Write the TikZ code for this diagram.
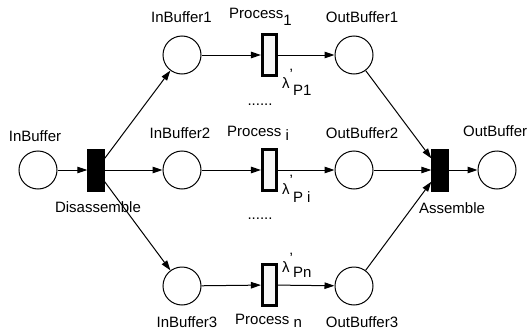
\documentclass[tikz,border=0pt]{standalone}
\usepackage{fontspec}
\setmainfont{Liberation Sans}
\usetikzlibrary{arrows.meta}
\begin{document}
\begin{tikzpicture}[x=1pt,y=-1pt,
  place/.style={draw, circle, line width=1pt, minimum size=38pt, inner sep=0pt},
  blacktr/.style={draw, fill=black, rectangle, minimum width=17pt, minimum height=42pt, inner sep=0pt},
  proctr/.style={draw, fill=gray!6, rectangle, line width=2.6pt, minimum width=14.5pt, minimum height=40.5pt, inner sep=0pt},
  lbl/.style={inner sep=0pt, font=\fontsize{15}{17}\selectfont},
  arc/.style={line width=1pt, -{Triangle[length=10pt,width=6.5pt]}}]
\useasboundingbox (0,0) rectangle (530,332);
% places
\node[place] (ib) at (38,170) {};
\node[place] (ib1) at (182,55) {};
\node[place] (ib2) at (182,170) {};
\node[place] (ib3) at (182,286) {};
\node[place] (ob1) at (354,55) {};
\node[place] (ob2) at (354,170) {};
\node[place] (ob3) at (354,286) {};
\node[place] (ob) at (497,170) {};
% transitions
\node[blacktr] (dis) at (96,170) {};
\node[blacktr] (asm) at (440,170) {};
\node[proctr] (p1) at (269.5,55) {};
\node[proctr] (pi) at (269.5,170) {};
\node[proctr] (pn) at (269.5,285) {};
% arcs
\draw[arc] (ib) -- (dis);
\draw[arc] (dis) -- (ib1);
\draw[arc] (dis) -- (ib2);
\draw[arc] (dis) -- (ib3);
\draw[arc] (ib1) -- (p1);
\draw[arc] (ib2) -- (pi);
\draw[arc] (ib3) -- (pn);
\draw[arc] (p1) -- (ob1);
\draw[arc] (pi) -- (ob2);
\draw[arc] (pn) -- (ob3);
\draw[arc] (ob1) -- (asm);
\draw[arc] (ob2) -- (asm);
\draw[arc] (ob3) -- (asm);
\draw[arc] (asm) -- (ob);
% labels
\node[lbl] (tib) at (35,136) {InBuffer};
\node[lbl] (tdis) at (98,207) {Disassemble};
\node[lbl] (tasm) at (452,208) {Assemble};
\node[lbl, anchor=west] (tob) at (463,131) {OutBuffer};
\node[lbl] (tib1) at (181.5,17) {InBuffer1};
\node[lbl] (tib2) at (180,133) {InBuffer2};
\node[lbl] (tib3) at (187,322) {InBuffer3};
\node[lbl] (tob1) at (362,17) {OutBuffer1};
\node[lbl] (tob2) at (362,133) {OutBuffer2};
\node[lbl] (tob3) at (362,322) {OutBuffer3};
\node[lbl, anchor=west] (tp1) at (229,17) {Process\raisebox{-7pt}{1}};
\node[lbl, anchor=west] (tpi) at (227,133) {Process \raisebox{-4pt}{i}};
\node[lbl, anchor=west] (tpn) at (235,321) {Process \raisebox{-3.5pt}{n}};
\node[lbl, anchor=west] (l1) at (282,82) {λ\raisebox{9pt}{'}\raisebox{-7pt}{P1}};
\node[lbl, anchor=west] (li) at (282,189) {λ\raisebox{9pt}{'}\raisebox{-8pt}{P i}};
\node[lbl, anchor=west] (ln) at (282,265) {λ\raisebox{9pt}{'}\raisebox{-5pt}{Pn}};
\node[lbl] (d1) at (260,105) {......};
\node[lbl] (d2) at (260,219) {......};
\end{tikzpicture}
\end{document}
